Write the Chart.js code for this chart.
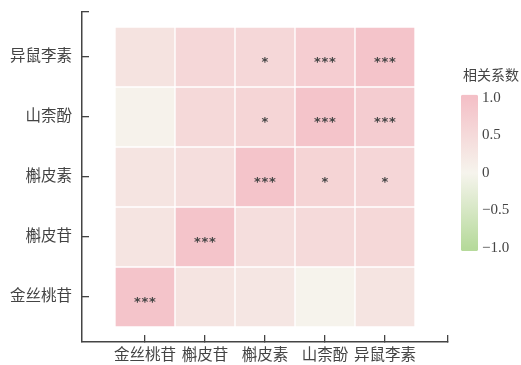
<!DOCTYPE html>
<html>
<head>
<meta charset="utf-8">
<script src="https://cdn.jsdelivr.net/npm/chart.js@4"></script>
<style>
  html, body { margin: 0; padding: 0; background: #fff; }
  #wrap { position: relative; width: 521px; height: 365px; }
  #heat { position: absolute; left: 0; top: 0; }
  #bar { position: absolute; left: 439px; top: 54px; }
</style>
</head>
<body>
<div id="wrap">
  <canvas id="heat" width="521" height="365"></canvas>
  <canvas id="bar" width="82" height="210"></canvas>
</div>
<script>
// Compounds on both axes (rows listed bottom to top)
const colLabels = ['金丝桃苷', '槲皮苷', '槲皮素', '山柰酚', '异鼠李素'];
const rowLabels = ['金丝桃苷', '槲皮苷', '槲皮素', '山柰酚', '异鼠李素'];

// Correlation coefficients, one array per row (bottom to top)
const rowHyperoside = [0.92, 0.31, 0.27, 0.02, 0.31];
const rowQuercitrin = [0.31, 0.92, 0.42, 0.50, 0.54];
const rowQuercetin  = [0.31, 0.42, 0.92, 0.62, 0.58];
const rowKaempferol = [0.04, 0.52, 0.60, 0.92, 0.77];
const rowIsorhamnetin = [0.33, 0.56, 0.56, 0.75, 0.92];
const corr = [rowHyperoside, rowQuercitrin, rowQuercetin, rowKaempferol, rowIsorhamnetin];

// Significance marks, same layout
const sigHyperoside = ['***', '', '', '', ''];
const sigQuercitrin = ['', '***', '', '', ''];
const sigQuercetin  = ['', '', '***', '*', '*'];
const sigKaempferol = ['', '', '*', '***', '***'];
const sigIsorhamnetin = ['', '', '*', '***', '***'];
const sig = [sigHyperoside, sigQuercitrin, sigQuercetin, sigKaempferol, sigIsorhamnetin];

// Colour bar ticks
const barTicks = [-1, -0.5, 0, 0.5, 1];
const barTickText = ['\u22121.0', '\u22120.5', '0', '0.5', '1.0'];

// Diverging palette: green (-1) -> cream (0) -> pink (+1)
const cNeg = [182, 218, 155];
const cMid = [246, 244, 237];
const cPos = [244, 192, 199];
function colorFor(v) {
  const t = Math.max(-1, Math.min(1, v));
  const a = cMid, b = t >= 0 ? cPos : cNeg, k = Math.abs(t);
  const c = a.map((x, i) => Math.round(x + (b[i] - x) * k));
  return `rgb(${c[0]},${c[1]},${c[2]})`;
}

const FONT = "'Liberation Serif', 'Noto Sans CJK SC', serif";
const INK = '#444';

const datasets = corr.map((row, r) => ({
  label: rowLabels[r],
  data: row.map((v, c) => ({ x: c, y: [r - 0.5, r + 0.5], v: v, s: sig[r][c] })),
  backgroundColor: row.map(v => colorFor(v)),
  borderColor: '#ffffff',
  borderWidth: 1,
  borderSkipped: false,
  barThickness: 60,
  grouped: false
}));

// Writes the significance stars in the middle of each cell
const starPlugin = {
  id: 'stars',
  afterDatasetsDraw(chart) {
    const ctx = chart.ctx;
    ctx.save();
    ctx.fillStyle = '#454545';
    ctx.font = "bold 13px 'DejaVu Sans', sans-serif";
    ctx.textAlign = 'center';
    ctx.textBaseline = 'middle';
    chart.data.datasets.forEach((ds, di) => {
      const meta = chart.getDatasetMeta(di);
      meta.data.forEach((el, i) => {
        const s = ds.data[i].s;
        if (!s) return;
        const p = el.getProps(['x', 'y', 'base'], true);
        const cy = (p.y + p.base) / 2 + 6;
        // spread the asterisks a little wider than the font does
        const step = 7.5;
        const x0 = p.x - step * (s.length - 1) / 2;
        for (let k = 0; k < s.length; k++) ctx.fillText(s[k], x0 + k * step, cy);
      });
    });
    ctx.restore();
  }
};

new Chart(document.getElementById('heat'), {
  type: 'bar',
  data: { datasets },
  options: {
    responsive: false,
    animation: false,
    events: [],
    layout: { padding: { top: 12, left: 0, right: 73, bottom: 0 } },
    plugins: { legend: { display: false }, tooltip: { enabled: false } },
    scales: {
      x: {
        type: 'linear',
        offset: false,
        min: -1.05,
        max: 5.05,
        afterBuildTicks(s) { s.ticks = [0, 1, 2, 3, 4, 5.05].map(v => ({ value: v })); },
        afterFit(s) { s.height = 23; s.paddingLeft = 0; s.paddingRight = 0; },
        ticks: {
          autoSkip: false,
          maxRotation: 0,
          padding: 12,
          color: INK,
          font: { family: FONT, size: 15.5 },
          callback: v => (Number.isInteger(v) && v <= 4 ? colLabels[v] : '')
        },
        grid: { offset: false, drawOnChartArea: false, drawTicks: true, tickLength: -7, color: INK, lineWidth: 1.3 },
        border: { display: true, color: INK, width: 1.5 }
      },
      y: {
        type: 'linear',
        offset: false,
        min: -0.75,
        max: 4.75,
        afterBuildTicks(s) { s.ticks = [0, 1, 2, 3, 4, 4.75].map(v => ({ value: v })); },
        afterFit(s) { s.width = 82; s.paddingTop = 0; s.paddingBottom = 0; },
        ticks: {
          autoSkip: false,
          padding: 17,
          color: INK,
          font: { family: FONT, size: 15.5 },
          callback: v => (Number.isInteger(v) && v <= 4 ? rowLabels[v] : '')
        },
        grid: { drawOnChartArea: false, drawTicks: true, tickLength: -7, color: INK, lineWidth: 1.3 },
        border: { display: true, color: INK, width: 1.5 }
      }
    }
  },
  plugins: [starPlugin]
});

// Colour bar legend
new Chart(document.getElementById('bar'), {
  type: 'bar',
  data: {
    labels: [''],
    datasets: [{
      data: [[-1.04, 1.04]],
      borderSkipped: false,
      borderWidth: 0,
      borderRadius: 3,
      barPercentage: 1,
      categoryPercentage: 1,
      backgroundColor(ctx) {
        const area = ctx.chart.chartArea;
        if (!area) return cMid;
        const y = ctx.chart.scales.y;
        const g = ctx.chart.ctx.createLinearGradient(0, y.getPixelForValue(-1), 0, y.getPixelForValue(1));
        [-1, -0.5, 0, 0.5, 1].forEach(v => g.addColorStop((v + 1) / 2, colorFor(v)));
        return g;
      }
    }]
  },
  options: {
    responsive: false,
    animation: false,
    events: [],
    layout: { padding: { top: 0, left: 22, right: 0, bottom: 0 } },
    plugins: {
      legend: { display: false },
      tooltip: { enabled: false },
      title: {
        display: true,
        text: '相关系数',
        color: INK,
        font: { family: FONT, size: 14, weight: 'normal' },
        padding: { top: 14, bottom: 10 }
      }
    },
    scales: {
      x: { display: false },
      y: {
        position: 'right',
        min: -1.04,
        max: 1.04,
        afterBuildTicks(s) { s.ticks = barTicks.map(v => ({ value: v })); },
        afterFit(s) { s.width = 43; },
        ticks: {
          padding: 4,
          color: INK,
          font: { family: FONT, size: 15 },
          callback: v => barTickText[barTicks.indexOf(v)]
        },
        grid: { display: false, drawTicks: false },
        border: { display: false }
      }
    }
  }
});
</script>
</body>
</html>
